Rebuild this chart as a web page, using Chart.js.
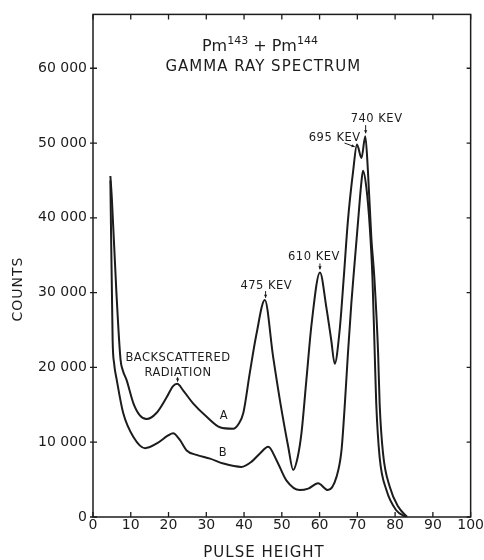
<!DOCTYPE html>
<html>
<head>
<meta charset="utf-8">
<script src="https://cdn.jsdelivr.net/npm/chart.js@4"></script>
<style>
  html, body { margin: 0; padding: 0; background: #ffffff; }
  #wrap { width: 484px; height: 560px; position: relative; }
</style>
</head>
<body>
<div id="wrap"><canvas id="grafico"></canvas></div>
<script>
// curve A (Pm143 + Pm144)
const pulseA = [4.6, 5.0, 6.2, 7.3, 7.9, 8.9, 10.7, 12.4, 14.2, 16.8, 19.5, 21.2, 22.3, 23.9, 26.5, 30.1, 33.6, 37.1, 38.5, 39.8, 41.5, 43.3, 45.5, 47.7, 49.5, 51.7, 53.0, 54.2, 55.2, 56.5, 57.9, 60.1, 61.8, 63.1, 64.0, 65.3, 66.4, 67.5, 68.9, 69.9, 71.1, 72.1, 72.8, 73.7, 74.5, 75.5, 75.9, 76.8, 78.6, 80.8, 83.2];
const countsA = [45600, 42500, 30000, 21000, 19600, 18300, 15200, 13600, 13100, 13900, 16000, 17500, 17800, 16900, 15200, 13400, 12000, 11800, 12400, 13900, 19200, 24500, 29000, 21400, 15600, 9400, 6300, 8000, 11200, 18300, 25900, 32700, 28000, 23600, 20500, 24900, 32000, 39600, 46300, 49800, 48000, 50900, 46300, 37400, 32000, 21900, 15200, 8500, 4000, 1400, 0];

// curve B
const pulseB = [4.6, 5.2, 5.6, 6.3, 8.0, 10.7, 13.8, 16.8, 19.9, 21.2, 23.0, 24.8, 27.4, 31.0, 34.5, 39.3, 42.0, 44.2, 46.4, 48.6, 51.2, 54.8, 57.0, 59.6, 62.2, 64.5, 65.8, 66.7, 67.5, 68.4, 69.1, 70.2, 71.1, 71.5, 72.4, 73.3, 74.0, 74.6, 75.0, 75.9, 77.7, 80.3, 82.8];
const countsB = [45000, 23600, 20500, 18300, 13900, 10700, 9200, 9800, 10900, 11200, 10300, 8900, 8300, 7800, 7150, 6700, 7400, 8500, 9400, 7600, 4900, 3600, 3800, 4500, 3600, 5400, 8900, 15200, 21800, 28500, 32900, 39600, 44900, 46300, 44000, 38700, 32000, 21900, 15200, 8000, 3600, 900, 0];

const xTicks = [0, 10, 20, 30, 40, 50, 60, 70, 80, 90, 100];
const yTicks = [0, 10000, 20000, 30000, 40000, 50000, 60000];

// text on the plot, in data units
const notes = [
  { text: 'BACKSCATTERED', x: 22.5, y: 21300 },
  { text: 'RADIATION', x: 22.5, y: 19200 },
  { text: '475 KEV', x: 45.9, y: 30900 },
  { text: '610 KEV', x: 58.5, y: 34700 },
  { text: '695 KEV', x: 64.0, y: 50700 },
  { text: '740 KEV', x: 75.1, y: 53200 },
  { text: 'A', x: 34.7, y: 13500 },
  { text: 'B', x: 34.4, y: 8500 }
];
const arrows = [
  { x1: 22.4, y1: 18700, x2: 22.4, y2: 18100 },
  { x1: 45.7, y1: 30200, x2: 45.7, y2: 29300 },
  { x1: 60.1, y1: 33900, x2: 60.1, y2: 33100 },
  { x1: 66.6, y1: 50000, x2: 69.3, y2: 49500 },
  { x1: 72.2, y1: 52400, x2: 72.2, y2: 51300 }
];

const FONT = '"DejaVu Sans", sans-serif';
const INK = '#1c1c1c';

function pontos(xs, ys) {
  return xs.map((x, i) => ({ x: x, y: ys[i] }));
}

function fmt(v) {
  if (v === 0) return '0';
  const s = String(v);
  return s.slice(0, s.length - 3) + ' ' + s.slice(-3);
}

const moldura = {
  id: 'moldura',
  afterDraw(chart) {
    const ctx = chart.ctx;
    const a = chart.chartArea;
    const xs = chart.scales.x, ys = chart.scales.y;
    ctx.save();
    ctx.strokeStyle = INK;
    ctx.lineWidth = 1.5;
    ctx.strokeRect(a.left, a.top, a.right - a.left, a.bottom - a.top);

    // inward ticks all round
    ctx.lineWidth = 1.3;
    ctx.beginPath();
    xTicks.forEach(v => {
      const p = xs.getPixelForValue(v);
      ctx.moveTo(p, a.bottom); ctx.lineTo(p, a.bottom - 5);
      ctx.moveTo(p, a.top); ctx.lineTo(p, a.top + 5);
    });
    yTicks.forEach(v => {
      const p = ys.getPixelForValue(v);
      ctx.moveTo(a.left - 3, p); ctx.lineTo(a.left + 4, p);
      ctx.moveTo(a.right, p); ctx.lineTo(a.right - 4, p);
    });
    ctx.stroke();

    // axis titles
    ctx.fillStyle = INK;
    ctx.font = '15px ' + FONT;
    ctx.textAlign = 'center';
    ctx.textBaseline = 'middle';
    ctx.letterSpacing = '1px';
    ctx.fillText('PULSE HEIGHT', 264, 553);
    ctx.save();
    ctx.translate(18, 289);
    ctx.rotate(-Math.PI / 2);
    ctx.font = '14px ' + FONT;
    ctx.fillText('COUNTS', 0, 0);
    ctx.restore();

    // title
    const cx = xs.getPixelForValue(45.1);
    ctx.font = '15px ' + FONT;
    ctx.fillText('GAMMA RAY SPECTRUM', cx, ys.getPixelForValue(60100));

    const partes = [['Pm', 0], ['143', 1], [' + ', 0], ['Pm', 0], ['144', 1]];
    ctx.letterSpacing = '0px';
    let total = 0;
    partes.forEach(p => {
      ctx.font = (p[1] ? '11px ' : '16px ') + FONT;
      total += ctx.measureText(p[0]).width;
    });
    let px = xs.getPixelForValue(44.2) - total / 2;
    const base = ys.getPixelForValue(62300);
    ctx.textAlign = 'left';
    ctx.textBaseline = 'alphabetic';
    partes.forEach(p => {
      ctx.font = (p[1] ? '11px ' : '16px ') + FONT;
      ctx.fillText(p[0], px, p[1] ? base - 7 : base);
      px += ctx.measureText(p[0]).width;
    });

    // peak notes
    ctx.font = '11.5px ' + FONT;
    ctx.textAlign = 'center';
    ctx.textBaseline = 'middle';
    ctx.letterSpacing = '0.5px';
    notes.forEach(n => {
      ctx.fillText(n.text, xs.getPixelForValue(n.x), ys.getPixelForValue(n.y));
    });

    ctx.lineWidth = 1;
    arrows.forEach(r => {
      const x1 = xs.getPixelForValue(r.x1), y1 = ys.getPixelForValue(r.y1);
      const x2 = xs.getPixelForValue(r.x2), y2 = ys.getPixelForValue(r.y2);
      const ang = Math.atan2(y2 - y1, x2 - x1);
      ctx.beginPath();
      ctx.moveTo(x1, y1); ctx.lineTo(x2, y2);
      ctx.stroke();
      ctx.beginPath();
      ctx.moveTo(x2, y2);
      ctx.lineTo(x2 - 3.5 * Math.cos(ang - 0.5), y2 - 3.5 * Math.sin(ang - 0.5));
      ctx.lineTo(x2 - 3.5 * Math.cos(ang + 0.5), y2 - 3.5 * Math.sin(ang + 0.5));
      ctx.closePath();
      ctx.fill();
    });
    ctx.restore();
  }
};

function criarGrafico() {
  const ctx = document.getElementById('grafico').getContext('2d');
  const linha = {
    borderColor: INK,
    borderWidth: 2,
    pointRadius: 0,
    fill: false,
    cubicInterpolationMode: 'monotone'
  };

  new Chart(ctx, {
    type: 'line',
    data: {
      datasets: [
        Object.assign({ label: 'A', data: pontos(pulseA, countsA) }, linha),
        Object.assign({ label: 'B', data: pontos(pulseB, countsB) }, linha)
      ]
    },
    options: {
      responsive: true,
      maintainAspectRatio: false,
      animation: false,
      layout: { padding: { top: 13, right: 13, left: 0, bottom: 0 } },
      plugins: {
        legend: { display: false },
        tooltip: { enabled: false }
      },
      scales: {
        x: {
          type: 'linear',
          min: 0,
          max: 100,
          afterFit: s => { s.height = 43; },
          afterBuildTicks: s => { s.ticks = xTicks.map(v => ({ value: v })); },
          grid: { display: false, drawTicks: false },
          border: { display: false },
          ticks: {
            color: INK,
            padding: 0,
            maxRotation: 0,
            font: { family: FONT, size: 14 }
          }
        },
        y: {
          min: 0,
          max: 67200,
          afterFit: s => { s.width = 93; },
          afterBuildTicks: s => { s.ticks = yTicks.map(v => ({ value: v })); },
          grid: { display: false, drawTicks: false },
          border: { display: false },
          ticks: {
            color: INK,
            padding: 6,
            font: { family: FONT, size: 14 },
            callback: v => fmt(v)
          }
        }
      }
    },
    plugins: [moldura]
  });
}

window.onload = function () {
  criarGrafico();
};
</script>
</body>
</html>
